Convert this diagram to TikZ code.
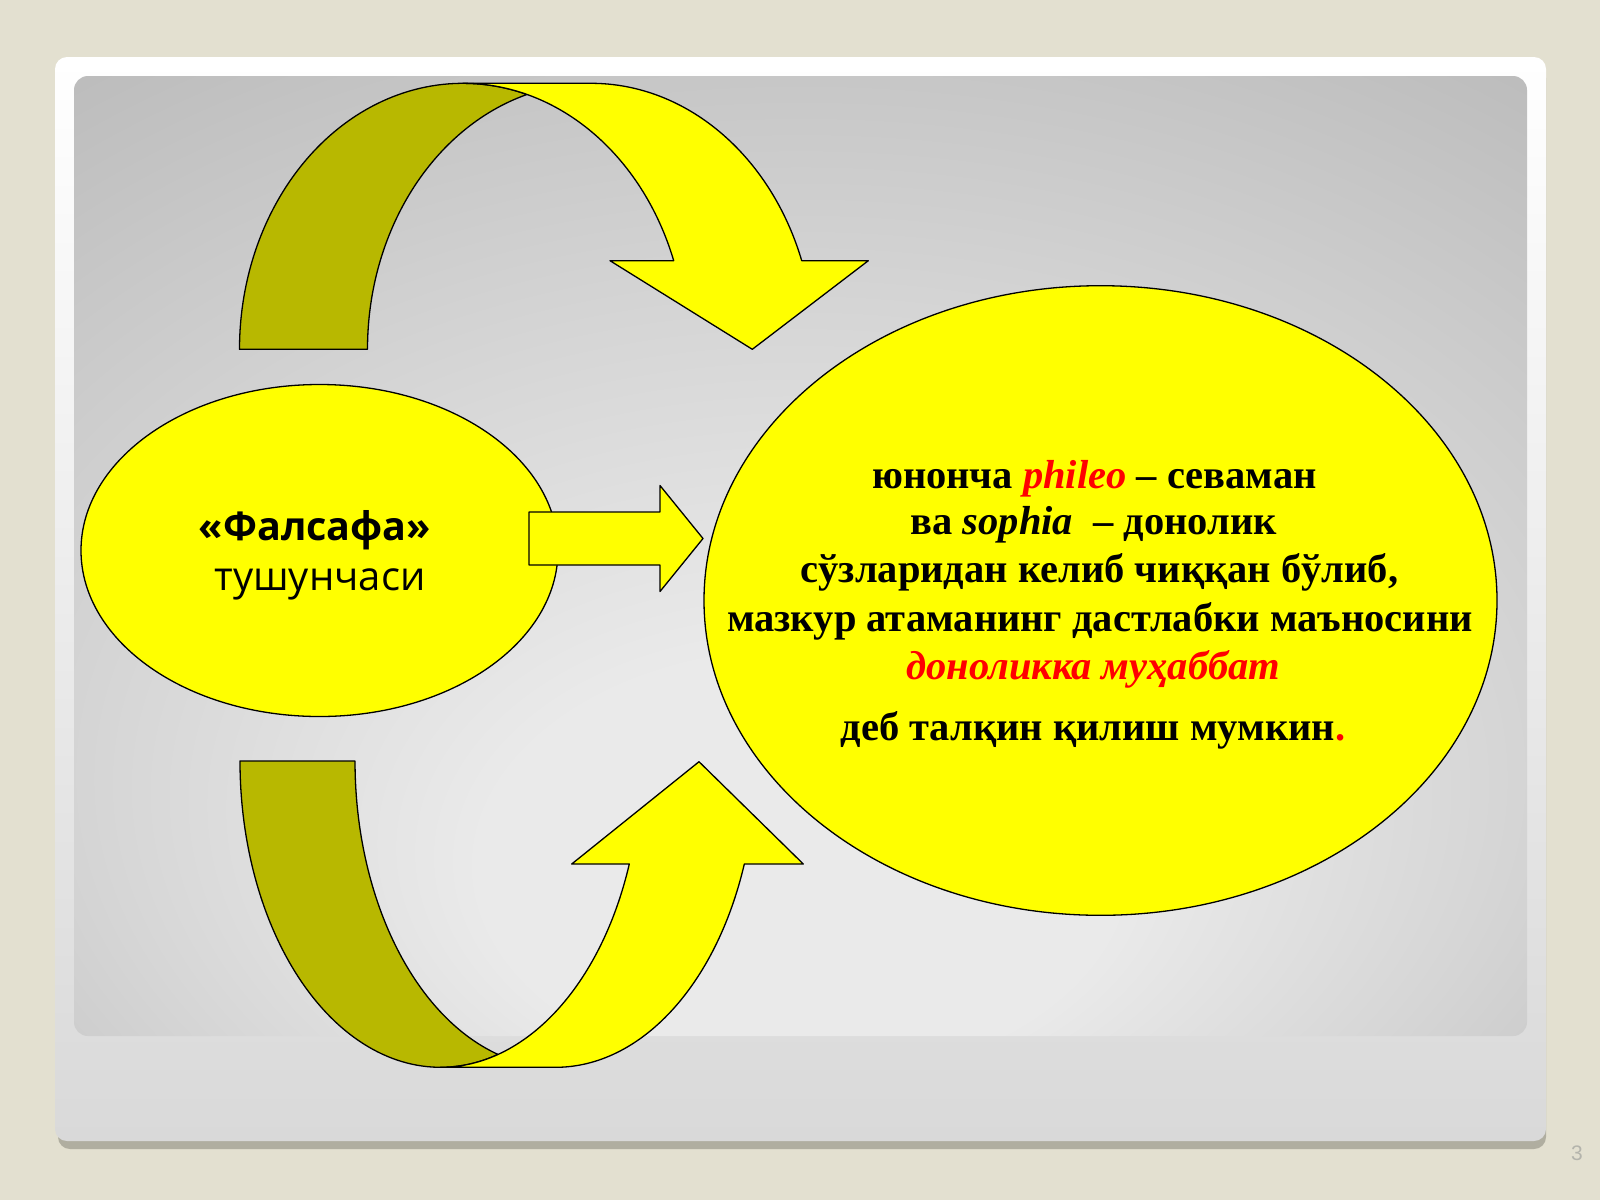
\documentclass[tikz,border=0pt]{standalone}
\usepackage{fontspec}
\setmainfont{Liberation Serif}
\newfontfamily\osans{Open Sans}
\newfontfamily\lsans{Liberation Sans}
\usetikzlibrary{shapes.geometric}
\definecolor{pagebg}{HTML}{E3E0D0}
\definecolor{shadowc}{HTML}{B0AEA0}
\definecolor{framebot}{HTML}{D9D9D9}
\definecolor{framemid}{HTML}{F4F4F4}
\definecolor{olivec}{HTML}{B8B800}
\definecolor{brightyellow}{HTML}{FFFF00}
\definecolor{bgA}{HTML}{EAEAEA}
\definecolor{bgB}{HTML}{D6D6D6}
\definecolor{bgC}{HTML}{BEBEBE}
\definecolor{bgD}{HTML}{A4A4A4}
\definecolor{pnum}{HTML}{B4B4AC}
\definecolor{redtext}{HTML}{FF0000}
\pgfdeclareradialshading{slidebg}{\pgfpoint{0bp}{-20bp}}{color(0bp)=(bgA); color(11bp)=(bgA); color(24bp)=(bgB); color(39bp)=(bgC); color(58bp)=(bgD)}
\begin{document}
\begin{tikzpicture}[x=1pt,y=-1pt, line join=round,
  shapeline/.style={draw=black, line width=1.3pt},
  backband/.style={shapeline, fill=olivec},
  frontband/.style={shapeline, fill=brightyellow},
  bubble/.style={ellipse, draw=black, line width=1.3pt, fill=brightyellow, inner sep=0pt, outer sep=0pt},
  tline/.style={font=\fontsize{40.5}{48}\selectfont\bfseries, anchor=base, inner sep=0pt},
  lline/.style={anchor=base, inner sep=0pt},
  ]
\useasboundingbox (0,0) rectangle (1600,1200);
\fill[pagebg] (0,0) rectangle (1600,1200);
% slide frame with shadow
\fill[shadowc, rounded corners=12pt] (58,66) rectangle (1546,1149);
\shade[top color=white, middle color=framemid, bottom color=framebot, rounded corners=12pt] (55,57) rectangle (1546,1141);
\shade[shading=slidebg, rounded corners=14pt] (74,76) rectangle (1527,1036);

% top curved arrow
\draw[backband] (239.5,349.3)
  arc[start angle=-180, end angle=-286.64, x radius=223.5pt, y radius=266pt]
  arc[start angle=-253.36, end angle=-180, x radius=223.5pt, y radius=266pt] -- cycle;
\draw[frontband] (463,83.3) -- (591,83.3)
  arc[start angle=-270, end angle=-340.54, x radius=223.5pt, y radius=266pt]
  -- (868.3,260.7) -- (752.3,349.3) -- (610,260.7) -- (673.7,260.7)
  arc[start angle=-340.54, end angle=-270, x radius=223.5pt, y radius=266pt] -- cycle;

% bottom curved arrow
\draw[backband] (240,761)
  arc[start angle=-180, end angle=-73.33, x radius=200.5pt, y radius=306.3pt]
  arc[start angle=-106.67, end angle=-180, x radius=200.5pt, y radius=306.3pt] -- cycle;
\draw[frontband] (440.5,1067.3) -- (555.5,1067.3)
  arc[start angle=-90, end angle=-19.65, x radius=200.5pt, y radius=306.3pt]
  -- (803.3,864) -- (699,761.7) -- (571.7,864) -- (629.3,864)
  arc[start angle=-19.65, end angle=-90, x radius=200.5pt, y radius=306.3pt] -- cycle;

% ellipses
\node[bubble, minimum width=477pt, minimum height=332pt] (concept) at (319.5,550.5) {};
\node[bubble, minimum width=793pt, minimum height=629.6pt] (meaning) at (1100.5,600.5) {};

% straight block arrow
\coordinate (tip) at (703,538.5);
\draw[frontband] (529,512) -- (660,512) -- (660,485.5) -- (tip) -- (660,591.5) -- (660,565) -- (529,565) -- cycle;

% left text
\node[lline, font=\osans\bfseries\fontsize{39.5}{48}\selectfont] (lbl1) at (315,540) {«Фалсафа»};
\node[lline, font=\osans\fontsize{40}{48}\selectfont] (lbl2) at (320,590) {тушунчаси};

% right text
\node[tline] (t1) at (1094.4,488) {юнонча \textcolor{redtext}{\itshape phileo} – севаман};
\node[tline] (t2) at (1093.8,534.5) {ва \textit{sophia}~ – донолик};
\node[tline] (t3) at (1099.5,582.5) {сўзларидан келиб чиққан бўлиб,};
\node[tline] (t4) at (1100,631.6) {мазкур атаманинг дастлабки маъносини};
\node[tline, text=redtext, font=\fontsize{40.5}{48}\selectfont\bfseries\itshape] (t5) at (1093.3,679) {доноликка муҳаббат};
\node[tline] (t6) at (1092.9,740.5) {деб талқин қилиш мумкин\textcolor{redtext}{.}};

% page number
\node[lline, text=pnum, font=\lsans\fontsize{21}{24}\selectfont] (pagenum) at (1577,1160) {3};
\end{tikzpicture}
\end{document}
